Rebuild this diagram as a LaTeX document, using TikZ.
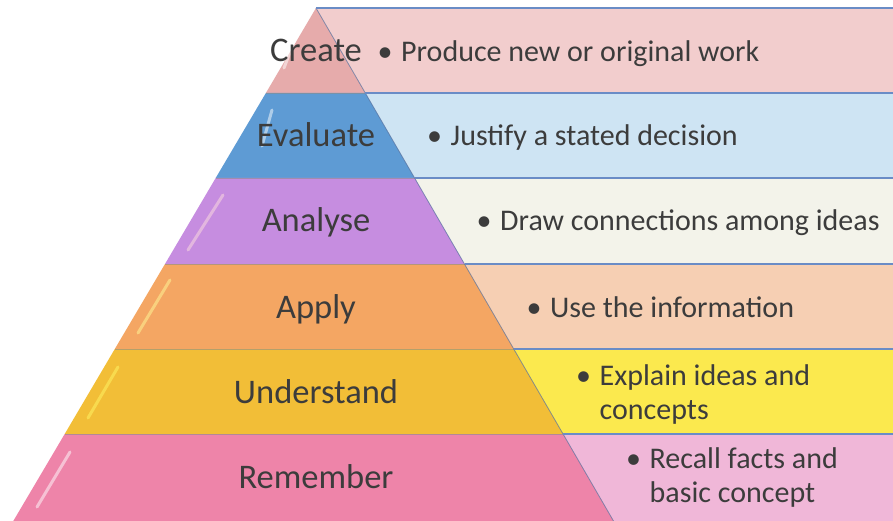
\documentclass[tikz,border=0pt]{standalone}
\usepackage{fontspec}
\newfontfamily\calfont{Carlito}
\newcommand{\mybul}[1]{\begin{tabular}[t]{@{}l@{}l@{}}\makebox[32pt][c]{\textbullet}&#1\end{tabular}}
\definecolor{txt}{HTML}{3C3C3C}
\definecolor{sep}{HTML}{6A8CC6}
\definecolor{pA}{HTML}{E6ABAB}\definecolor{qA}{HTML}{F2CDCD}
\definecolor{pB}{HTML}{5E9BD4}\definecolor{qB}{HTML}{CEE4F3}
\definecolor{pC}{HTML}{C68DE0}\definecolor{qC}{HTML}{F3F3EA}
\definecolor{pD}{HTML}{F4A663}\definecolor{qD}{HTML}{F6CFB3}
\definecolor{pE}{HTML}{F2BE37}\definecolor{qE}{HTML}{FBE94E}
\definecolor{pF}{HTML}{EE84A9}\definecolor{qF}{HTML}{F0B7D8}
\begin{document}
\begin{tikzpicture}[x=1pt,y=-1pt,
  lvl/.style={font=\calfont\fontsize{34.5}{40}\selectfont, text=txt, inner sep=0pt, anchor=base},
  desc/.style={font=\calfont\fontsize{30}{34}\selectfont, text=txt, inner sep=0pt, anchor=base west},
  sepline/.style={draw=sep, line width=1.6pt},
  bandline/.style={draw=black!45, opacity=0.6, line width=0.6pt},
  edge/.style={draw=sep!80!black, opacity=0.7, line width=0.8pt},
  shine/.style={line width=3pt, line cap=round, opacity=0.5}]
\useasboundingbox (0,0) rectangle (893,521);
\fill[white] (0,0) rectangle (893,521);
% right panels
\fill[qA] (316,8) -- (893,8) -- (893,93) -- (365.3,93) -- cycle;
\fill[qB] (365.3,93) -- (893,93) -- (893,178) -- (414.6,178) -- cycle;
\fill[qC] (414.6,178) -- (893,178) -- (893,264) -- (464.5,264) -- cycle;
\fill[qD] (464.5,264) -- (893,264) -- (893,349) -- (513.8,349) -- cycle;
\fill[qE] (513.8,349) -- (893,349) -- (893,434) -- (563.1,434) -- cycle;
\fill[qF] (563.1,434) -- (893,434) -- (893,521) -- (613.5,521) -- cycle;
% pyramid bands
\fill[pA] (316,8) -- (365.3,93) -- (265.9,93) -- cycle;
\fill[pB] (265.9,93) -- (365.3,93) -- (414.6,178) -- (215.7,178) -- cycle;
\fill[pC] (215.7,178) -- (414.6,178) -- (464.5,264) -- (165,264) -- cycle;
\fill[pD] (165,264) -- (464.5,264) -- (513.8,349) -- (114.8,349) -- cycle;
\fill[pE] (114.8,349) -- (513.8,349) -- (563.1,434) -- (64.7,434) -- cycle;
\fill[pF] (64.7,434) -- (563.1,434) -- (613.5,521) -- (13.3,521) -- cycle;
% highlights
\draw[shine, white] (294,42) -- (284,68);
\draw[shine, white] (272,110) -- (262,146);
\draw[shine, pink!50!white] (223,195) -- (188,250);
\draw[shine, yellow!40!white] (170,280) -- (138,333);
\draw[shine, yellow!60!white] (118,367) -- (88,418);
\draw[shine, white] (70,452) -- (37,507);
% band separators inside pyramid
\draw[bandline] (265.9,93) -- (365.3,93);
\draw[bandline] (215.7,178) -- (414.6,178);
\draw[bandline] (165,264) -- (464.5,264);
\draw[bandline] (114.8,349) -- (513.8,349);
\draw[bandline] (64.7,434) -- (563.1,434);
% pyramid right edge
\draw[edge] (316,8) -- (613.5,521);
% panel separators
\draw[sepline] (316,8) -- (893,8);
\draw[sepline] (365.3,93) -- (893,93);
\draw[sepline] (414.6,178) -- (893,178);
\draw[sepline] (464.5,264) -- (893,264);
\draw[sepline] (513.8,349) -- (893,349);
\draw[sepline] (563.1,434) -- (893,434);
% level labels
\node[lvl] (lcreate) at (316,62) {Create};
\node[lvl] (levaluate) at (316,147) {Evaluate};
\node[lvl] (lanalyse) at (316,232) {Analyse};
\node[lvl] (lapply) at (316,318) {Apply};
\node[lvl] (lunderstand) at (316,403) {Understand};
\node[lvl] (lremember) at (316,488) {Remember};
% descriptions
\node[desc] (dcreate) at (369,62) {\mybul{Produce new or original work}};
\node[desc] (devaluate) at (418.5,146) {\mybul{Justify a stated decision}};
\node[desc] (danalyse) at (468,230) {\mybul{Draw connections among ideas}};
\node[desc] (dapply) at (518,317) {\mybul{Use the information}};
\node[desc] (dunderstand) at (567.5,385) {\mybul{Explain ideas and\\&concepts}};
\node[desc] (dremember) at (617.5,468) {\mybul{Recall facts and\\&basic concept}};
\end{tikzpicture}
\end{document}
